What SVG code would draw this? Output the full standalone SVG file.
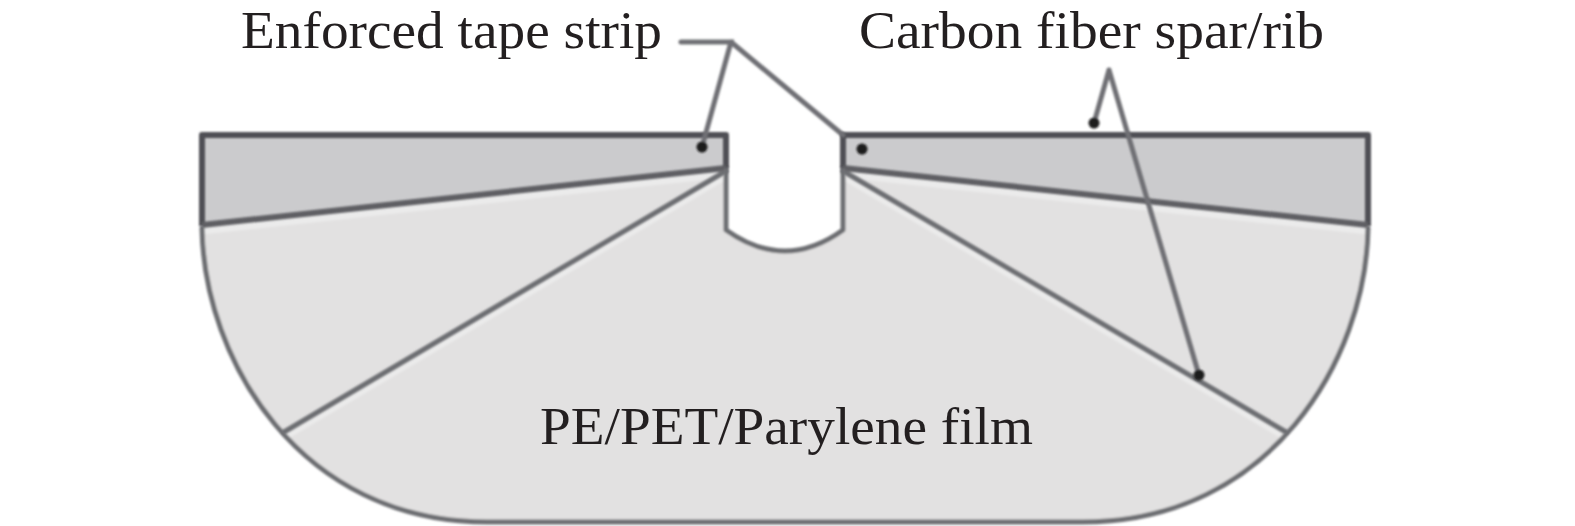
<svg xmlns="http://www.w3.org/2000/svg" width="1575" height="526" viewBox="0 0 1575 526">
<defs><filter id="soft" x="-5%" y="-5%" width="110%" height="110%"><feGaussianBlur stdDeviation="0.8"/></filter></defs>
<style>
.t{font-family:"Liberation Serif","Times New Roman",serif;font-size:53.5px;fill:#231f20}
.e{fill:none;stroke:#6d6e72;stroke-width:5;stroke-linecap:round;stroke-linejoin:round}
.h{fill:none;stroke:#f0f0f0;stroke-width:9;stroke-opacity:.7}
.l{fill:none;stroke:#6f7074;stroke-width:5;stroke-linecap:round}
.d{fill:#1c1c1e}
</style>
<rect width="1575" height="526" fill="#fff"/>
<g id="film" filter="url(#soft)">
<path d="M202 135H726V230Q785 272 843 230V135H1368V228C1366 360 1270 522 1083 522H487C300 522 204 360 202 228Z" fill="#e2e1e1"/>
<path d="M202 135H726V168L202 225ZM843 135H1368V225L843 168Z" fill="#cbcbcd"/>
<path d="M202 230L726 173M843 173L1368 230M724 176L284 436M845 176L1286 436" class="h"/>
<path d="M202 228C204 360 300 522 487 522H1083C1270 522 1366 360 1368 228" class="e"/>
<path d="M726 168V230Q785 272 843 230V168" class="e"/>
</g>
<g id="spar-rib" filter="url(#soft)">
<path d="M202 226V135H726V168M843 168V135H1368V226" fill="none" stroke="#4f5054" stroke-width="6" stroke-linejoin="round"/>
<path d="M202 225L726 168M843 168L1368 225" fill="none" stroke="#5e5f63" stroke-width="6"/>
<path d="M726 171L284 432M843 171L1286 432" class="e"/>
</g>
<g id="connectors" filter="url(#soft)">
<path d="M681 42H731L702 147M731 42L843 135" class="l"/>
<path d="M1109 70L1094 123M1109 70L1199 375" class="l"/>
<circle class="d" cx="702" cy="147" r="5.5"/>
<circle class="d" cx="862" cy="149" r="5.5"/>
<circle class="d" cx="1094" cy="123" r="5.5"/>
<circle class="d" cx="1199" cy="375" r="5.5"/>
</g>
<g id="label-tape"><text class="t" x="241" y="48" textLength="421" lengthAdjust="spacingAndGlyphs">Enforced tape strip</text></g>
<g id="label-spar"><text class="t" x="859" y="48" textLength="465" lengthAdjust="spacingAndGlyphs">Carbon fiber spar/rib</text></g>
<g id="label-film"><text class="t" x="540" y="443.5" textLength="493" lengthAdjust="spacingAndGlyphs">PE/PET/Parylene film</text></g>
</svg>
